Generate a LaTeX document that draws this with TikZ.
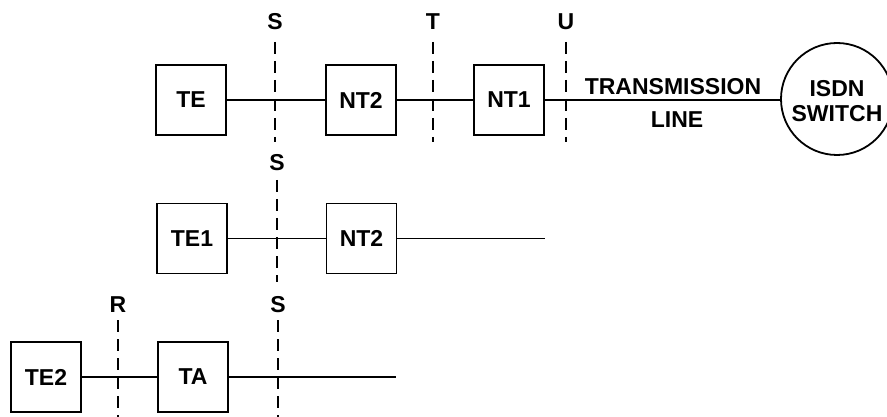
\documentclass[tikz,border=0pt]{standalone}
\usepackage{fontspec}
\setmainfont{Liberation Sans}
\newcommand{\lblfont}{\fontsize{23}{25}\selectfont\bfseries}
\begin{document}
\begin{tikzpicture}[x=1pt,y=-1pt,
  box/.style={draw,line width=1.8pt,minimum width=70pt,minimum height=70pt,inner sep=0pt,font=\lblfont},
  sw/.style={draw,circle,line width=1.8pt,minimum size=112pt,inner sep=0pt},
  lbl/.style={inner sep=0pt,font=\lblfont,align=center},
  conn/.style={line width=1.6pt},
  refline/.style={line width=2.2pt,dash pattern=on 12pt off 7pt}]
\clip (0,0) rectangle (887,417);
\useasboundingbox (0,0) rectangle (887,417);

% Row 1
\node[box] (te) at (191,100) {TE};
\node[box] (nt2a) at (361,100) {NT2};
\node[box] (nt1) at (509,100) {NT1};
\node[sw] (isdn) at (837,99) {};
\node[lbl] (isdntxt) at (837,101) {ISDN\\SWITCH};
\draw[conn] (te) -- (nt2a);
\draw[conn] (nt2a) -- (nt1);
\draw[conn] (nt1.east) -- (nt1.east -| isdn.west);
\node[lbl] (trans) at (673,87) {TRANSMISSION};
\node[lbl] (line) at (677,120) {LINE};

\node[lbl] (s1) at (275,22) {S};
\node[lbl] (t1) at (433,22) {T};
\node[lbl] (u1) at (566,22) {U};
\coordinate (s1a) at (275,42); \coordinate (s1b) at (275,142);
\coordinate (t1a) at (433,42); \coordinate (t1b) at (433,142);
\coordinate (u1a) at (566,42); \coordinate (u1b) at (566,142);
\draw[refline] (s1a) -- (s1b);
\draw[refline] (t1a) -- (t1b);
\draw[refline] (u1a) -- (u1b);

% Row 2
\node[box] (te1) at (192,238.5) {TE1};
\node[box] (nt2b) at (361.5,238.5) {NT2};
\coordinate (end2) at (545,238.5);
\draw[conn] (te1) -- (nt2b);
\draw[conn] (nt2b) -- (end2);
\node[lbl] (s2) at (277,163) {S};
\coordinate (s2a) at (277,180); \coordinate (s2b) at (277,282);
\draw[refline] (s2a) -- (s2b);

% Row 3
\node[box] (te2) at (46,377) {TE2};
\node[box] (ta) at (193,377) {TA};
\coordinate (end3) at (396,377);
\draw[conn] (te2) -- (ta);
\draw[conn] (ta) -- (end3);
\node[lbl] (r3) at (118,305) {R};
\node[lbl] (s3) at (278,305) {S};
\coordinate (r3a) at (118,320); \coordinate (r3b) at (118,420);
\coordinate (s3a) at (278,320); \coordinate (s3b) at (278,420);
\draw[refline] (r3a) -- (r3b);
\draw[refline] (s3a) -- (s3b);
\end{tikzpicture}
\end{document}
